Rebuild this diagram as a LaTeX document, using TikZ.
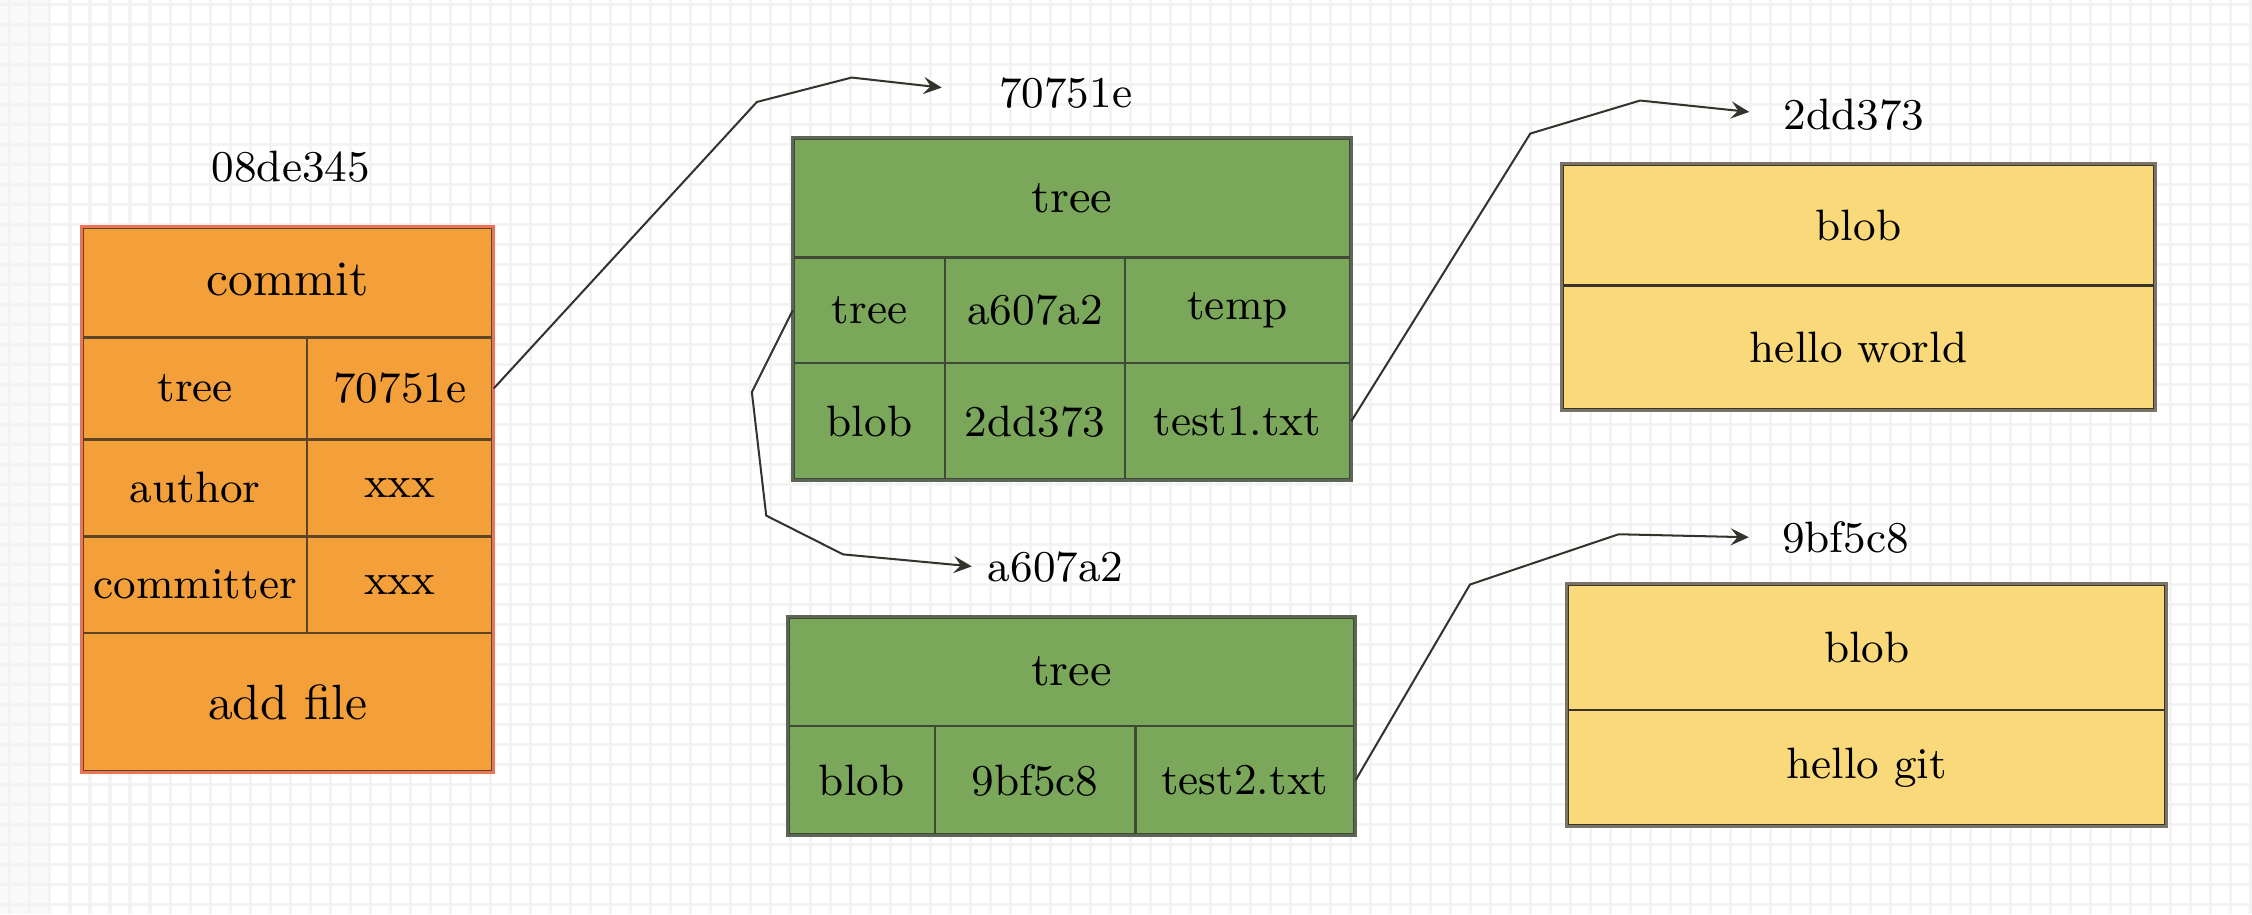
\documentclass[tikz,border=0pt]{standalone}
\usepackage{fontspec}
\usetikzlibrary{arrows.meta}

\definecolor{commitfill}{HTML}{F4A03A}
\definecolor{commitframe}{HTML}{EC7458}
\definecolor{commitline}{HTML}{5E4526}
\definecolor{treefill}{HTML}{7BA75B}
\definecolor{treeline}{HTML}{3F4A36}
\definecolor{treeframe}{HTML}{5C6655}
\definecolor{blobfill}{HTML}{FAD97A}
\definecolor{blobline}{HTML}{3A3526}
\definecolor{blobframe}{HTML}{7A7466}
\definecolor{gridgray}{HTML}{F3F3F3}
\definecolor{arrowgray}{HTML}{33332C}

\tikzset{
	tablecell/.style = {rectangle, anchor = north west, inner sep = 0pt, line width = 0.5pt},
	commitcell/.style = {tablecell, draw = commitline, fill = commitfill},
	treecell/.style = {tablecell, draw = treeline, fill = treefill},
	blobcell/.style = {tablecell, draw = blobline, fill = blobfill},
	boxframe/.style = {line width = 0.6pt},
	hashlabel/.style = {inner sep = 1pt},
	objlink/.style = {->, draw = arrowgray, line width = 0.4pt, line join = round},
	gridline/.style = {draw = gridgray, line width = 0.6pt},
	bigtext/.style = {font = \fontsize{9.8}{11}\selectfont},
	headtext/.style = {font = \fontsize{9.3}{11}\selectfont}
}

\begin{document}
\begin{tikzpicture}[x = 0.01cm, y = -0.01cm, > = {Stealth[length=3.6pt, width=3.4pt, inset=1.4pt]}, font = \fontsize{8.7}{10}\selectfont]

	% Background grid

	\useasboundingbox (0, 0) rectangle (1568, 636.5);
	\fill [white] (0, 0) rectangle (1568, 636.5);
	\fill [gray!5] (0, 0) rectangle (34, 636.5);

	\foreach \gx in {-2, ..., 110}
		\draw [gridline] ({34.8 + \gx * 13.93}, 0) -- ({34.8 + \gx * 13.93}, 636.5);

	\foreach \gy in {0, ..., 45}
		\draw [gridline] (0, {3 + \gy * 13.93}) -- (1568, {3 + \gy * 13.93});

	% Commit object

	\node [hashlabel] (lcommit) at (202.5, 116.3) {08de345};

	\node [commitcell, bigtext, minimum width = 2.85cm, minimum height = 0.76cm] (chead) at (57, 158) {\raisebox{1.5pt}{commit}};
	\node [commitcell, minimum width = 1.56cm, minimum height = 0.71cm] (ctree) at (57, 234) {tree};
	\node [commitcell, minimum width = 1.29cm, minimum height = 0.71cm] (ctreeval) at (213, 234) {70751e};

	\foreach \y/\key/\nm in {305/author/cauthor, 372.5/committer/ccommitter}
	{
		\node [commitcell, minimum width = 1.56cm, minimum height = 0.675cm] (\nm) at (57, \y) {\key};
		\node [commitcell, minimum width = 1.29cm, minimum height = 0.675cm] (\nm val) at (213, \y) {xxx};
	}

	\node [commitcell, bigtext, minimum width = 2.85cm, minimum height = 0.96cm] (cmsg) at (57, 440) {add file};
	\draw [boxframe, commitframe] (chead.north west) rectangle (cmsg.south east);

	% Tree 70751e

	\node [hashlabel] (ltreeone) at (742, 65) {70751e};

	\node [treecell, headtext, minimum width = 3.87cm, minimum height = 0.824cm] (thead) at (552, 96) {tree};

	\foreach \y/\h/\kind/\hash/\file/\nm in {178.4/0.734/tree/a607a2/temp/ttree, 251.8/0.812/blob/2dd373/test1.txt/tblob}
	{
		\node [treecell, minimum width = 1.05cm, minimum height = \h cm] (\nm) at (552, \y) {\kind};
		\node [treecell, minimum width = 1.255cm, minimum height = \h cm] (\nm hash) at (657, \y) {\hash};
		\node [treecell, minimum width = 1.565cm, minimum height = \h cm] (\nm name) at (782.5, \y) {\file};
	}

	\draw [boxframe, treeframe] (thead.north west) rectangle (tblobname.south east);

	% Tree a607a2

	\node [hashlabel] (lsubtree) at (735, 395) {a607a2};

	\node [treecell, headtext, minimum width = 3.94cm, minimum height = 0.757cm] (shead) at (548, 429) {tree};
	\node [treecell, minimum width = 1.02cm, minimum height = 0.753cm] (sblob) at (548, 504.7) {blob};
	\node [treecell, minimum width = 1.397cm, minimum height = 0.753cm] (sblobhash) at (650, 504.7) {9bf5c8};
	\node [treecell, minimum width = 1.523cm, minimum height = 0.753cm] (sblobname) at (789.7, 504.7) {test2.txt};

	\draw [boxframe, treeframe] (shead.north west) rectangle (sblobname.south east);

	% Blobs

	\node [hashlabel] (lblobone) at (1291, 80) {2dd373};

	\node [blobcell, minimum width = 4.12cm, minimum height = 0.84cm] (bonehead) at (1087, 114) {blob};
	\node [blobcell, minimum width = 4.12cm, minimum height = 0.86cm] (bonedata) at (1087, 198) {hello world};
	\draw [boxframe, blobframe] (bonehead.north west) rectangle (bonedata.south east);

	\node [hashlabel] (lblobtwo) at (1285, 374.5) {9bf5c8};

	\node [blobcell, minimum width = 4.155cm, minimum height = 0.868cm] (btwohead) at (1091, 406.6) {blob};
	\node [blobcell, minimum width = 4.155cm, minimum height = 0.804cm] (btwodata) at (1091, 493.4) {hello git};
	\draw [boxframe, blobframe] (btwohead.north west) rectangle (btwodata.south east);

	% Links between objects

	\draw [objlink, shorten > = 0.36cm] (ctreeval.east) -- (527, 71) -- (593, 54) -- (ltreeone.west);
	\draw [objlink, shorten > = 0.07cm] (ttree.west) -- (523.5, 273) -- (533.5, 359) -- (587, 386) -- (lsubtree.west);
	\draw [objlink, shorten > = 0.2cm] (tblobname.east) -- (1065.5, 93) -- (1142, 70) -- (lblobone.west);
	\draw [objlink, shorten > = 0.19cm] (sblobname.east) -- (1023.5, 407) -- (1127, 372) -- (lblobtwo.west);

\end{tikzpicture}
\end{document}
